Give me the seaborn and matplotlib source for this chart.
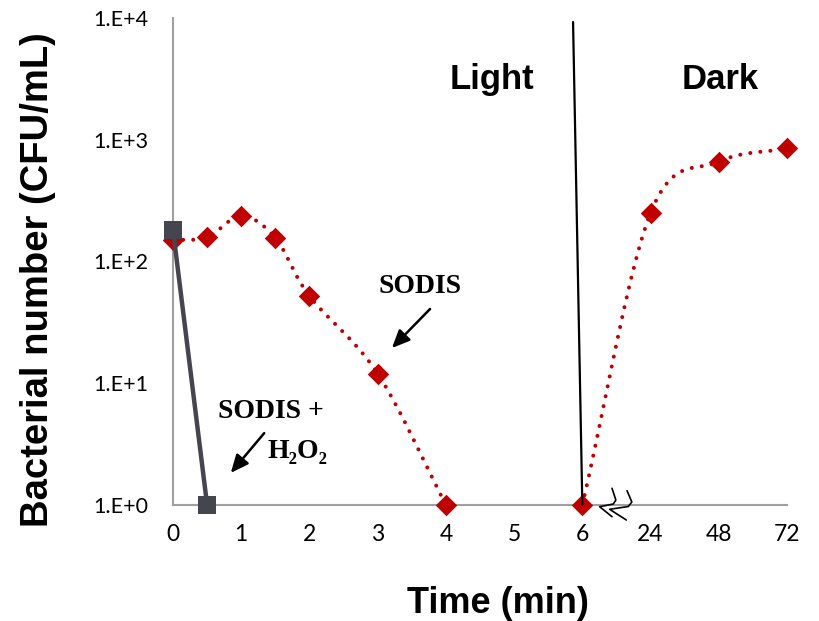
import numpy as np
import pandas as pd
import matplotlib
matplotlib.use("Agg")
import matplotlib.pyplot as plt
import matplotlib.transforms as mtransforms
import seaborn as sns

# ---- data ----
tick_labels_x = ["0", "1", "2", "3", "4", "5", "6", "24", "48", "72"]
tick_pos_x = [0, 1, 2, 3, 4, 5, 6, 7, 8, 9]          # equally spaced categories
y_ticks = [1, 10, 100, 1000, 10000]
y_tick_labels = ["1.E+0", "1.E+1", "1.E+2", "1.E+3", "1.E+4"]

# SODIS (light phase, then dark phase); x in category-position units
sodis_light_x = [0, 0.5, 1, 1.5, 2, 3, 4]
sodis_light_y = [150, 158, 237, 156, 52, 12, 1]
sodis_dark_x = [6, 7, 8, 9]
sodis_dark_y = [1, 250, 660, 850]

# SODIS + H2O2
h2o2_x = [0, 0.5]
h2o2_y = [181, 1]

RED = "#C00000"
GRAY = "#45454F"

sns.set_theme(style="white")
plt.rcParams["font.family"] = ["Lato", "DejaVu Sans"]
plt.rcParams["text.color"] = "black"
plt.rcParams["axes.labelcolor"] = "black"

fig = plt.figure(figsize=(8.19, 6.21), dpi=100)
ax = fig.add_axes([173/819, 1-505/621, (787-173)/819, (505-18)/621])


def smooth(xs, ys, n=40):
    """Catmull-Rom curve through points in (x, log10 y) space for line rendering."""
    px = np.array(xs, float)
    py = np.log10(np.array(ys, float))
    P = np.column_stack([px, py])
    P = np.vstack([P[0] - (P[1] - P[0]), P, P[-1] + (P[-1] - P[-2])])
    out = []
    for i in range(1, len(P) - 2):
        p0, p1, p2, p3 = P[i-1], P[i], P[i+1], P[i+2]
        t = np.linspace(0, 1, n)[:, None]
        c = 0.5 * ((2*p1) + (-p0 + p2)*t + (2*p0 - 5*p1 + 4*p2 - p3)*t**2
                   + (-p0 + 3*p1 - 3*p2 + p3)*t**3)
        out.append(c)
    c = np.vstack(out)
    return c[:, 0], 10 ** c[:, 1]


for xs, ys in [(sodis_light_x, sodis_light_y), (sodis_dark_x, sodis_dark_y)]:
    sx, sy = smooth(xs, ys)
    ax.plot(sx, sy, color=RED, lw=2.9, linestyle=(0, (0.01, 2.5)),
            dash_capstyle="round", zorder=3, clip_on=False)

df_red = pd.DataFrame({"x": sodis_light_x + sodis_dark_x,
                       "y": sodis_light_y + sodis_dark_y})
sns.scatterplot(data=df_red, x="x", y="y", marker="D", s=120, color=RED,
                edgecolor=RED, linewidth=0, ax=ax, zorder=4)

df_g = pd.DataFrame({"x": h2o2_x, "y": h2o2_y})
sns.lineplot(data=df_g, x="x", y="y", color=GRAY, lw=3.2, ax=ax, zorder=5)
sns.scatterplot(data=df_g, x="x", y="y", marker="s", s=150, color=GRAY,
                edgecolor=GRAY, linewidth=0, ax=ax, zorder=6)
for art in ax.collections + ax.lines:
    art.set_clip_on(False)

ax.set_yscale("log")
ax.set_ylim(1, 10000)
ax.set_xlim(0, 9)
ax.set_yticks(y_ticks)
ax.set_yticklabels(y_tick_labels)
ax.minorticks_off()
ax.set_xticks(tick_pos_x)
ax.set_xticklabels(tick_labels_x)
ax.tick_params(axis="y", length=0, pad=18, labelsize=15.5, colors="black")
ax.tick_params(axis="x", length=0, pad=14, labelsize=16.5, colors="black")

for s in ["top", "right"]:
    ax.spines[s].set_visible(False)
for s in ["left", "bottom"]:
    ax.spines[s].set_color("#A0A0A0")
    ax.spines[s].set_linewidth(1.5)
ax.set_facecolor("white")

lab_font = ["Liberation Sans", "DejaVu Sans"]
ax.set_xlabel("Time (min)", fontsize=26, fontweight="bold", family=lab_font,
              color="black")
ax.set_ylabel("Bacterial number (CFU/mL)", fontsize=27.5, fontweight="bold",
              family=lab_font, color="black")
ax.xaxis.set_label_coords((498-173)/614, -(586-505)/487)
ax.yaxis.set_label_coords(-(173-56)/614, (505-280)/487)

# light / dark separator
ax.plot([5.864, 6.0], [10**3.967, 1], color="black", lw=1.6, zorder=7,
        clip_on=False)

ax.text((492-173)/614, (505-80)/487, "Light", transform=ax.transAxes,
        fontsize=25, fontweight="bold", family=lab_font, ha="center",
        va="center", color="black")
ax.text((720-173)/614, (505-80)/487, "Dark", transform=ax.transAxes,
        fontsize=25, fontweight="bold", family=lab_font, ha="center",
        va="center", color="black")

serif = ["Liberation Serif", "DejaVu Serif"]
ax.text((420-173)/614, (505-287)/487, "SODIS", transform=ax.transAxes,
        fontsize=20, fontweight="bold", family=serif, ha="center",
        va="center", color="black")
ax.annotate("", xy=((390-173)/614, (505-350)/487),
            xytext=((432-173)/614, (505-307)/487),
            xycoords="axes fraction", textcoords="axes fraction",
            arrowprops=dict(arrowstyle="-|>,head_length=0.9,head_width=0.4",
                            color="black", lw=1.8))
ax.text((271-173)/614, (505-412)/487, "SODIS +", transform=ax.transAxes,
        fontsize=20, fontweight="bold", family=serif, ha="center",
        va="center", color="black")
ax.text((297-173)/614, (505-452)/487, "H₂O₂", transform=ax.transAxes,
        fontsize=20, fontweight="bold", family=serif, ha="center",
        va="center", color="black")
ax.annotate("", xy=((229-173)/614, (505-475)/487),
            xytext=((266-173)/614, (505-431)/487),
            xycoords="axes fraction", textcoords="axes fraction",
            arrowprops=dict(arrowstyle="-|>,head_length=0.9,head_width=0.4",
                            color="black", lw=1.8))

# axis-break symbol near x=6 (pixel offsets from the (6, 1) point)
fig.canvas.draw()
ox, oy = ax.transData.transform((6, 1))
tr = mtransforms.Affine2D().translate(ox, oy)
strokes = [
    [(29.7, 16.7), (33.5, 5), (31, 1), (17.3, -1.7), (29.7, -11.7)],
    [(44.7, 14.3), (49.5, 3), (46, -1.5), (27.3, -4.3), (44, -15)],
]
for st in strokes:
    a = np.array(st)
    ax.plot(a[:, 0], a[:, 1], color="black", lw=1.2, transform=tr,
            clip_on=False, zorder=8)

fig.savefig("out.png", dpi=100, facecolor="white")
